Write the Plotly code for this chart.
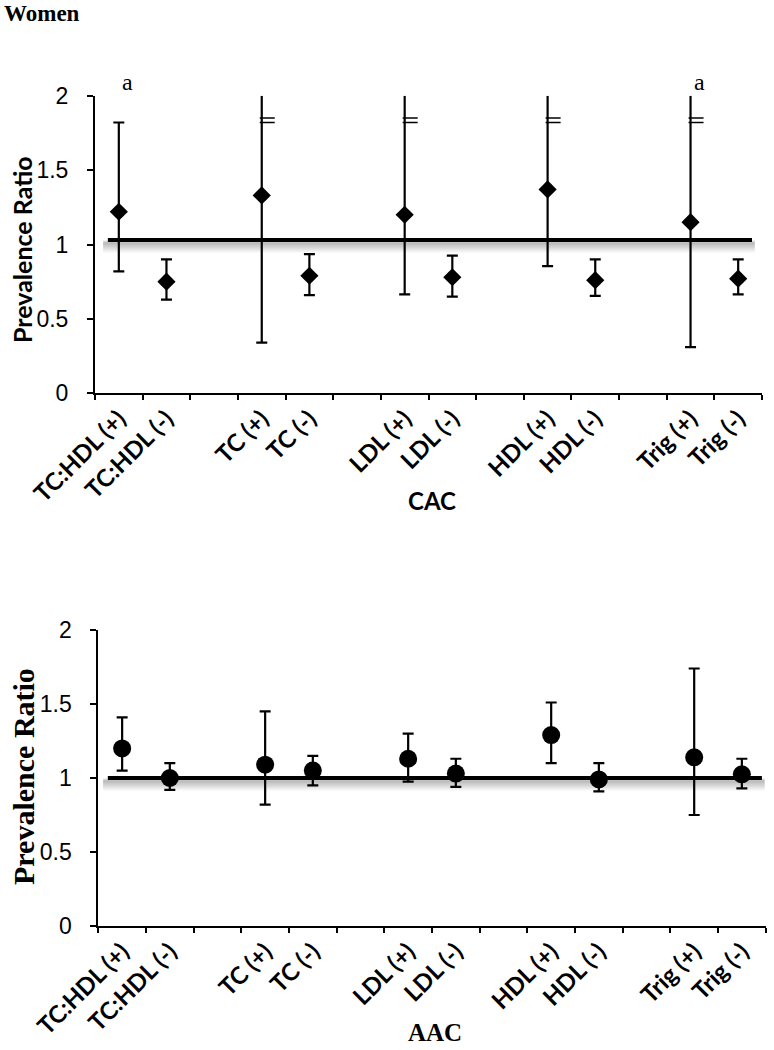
import plotly.graph_objects as go

# ---------------- data ----------------
categories = ["TC:HDL (+)", "TC:HDL (-)", " ", "TC (+)", "TC (-)", "  ",
              "LDL (+)", "LDL (-)", "   ", "HDL (+)", "HDL (-)", "    ",
              "Trig (+)", "Trig (-)"]
groups = ["TC:HDL (+)", "TC:HDL (-)", "TC (+)", "TC (-)", "LDL (+)", "LDL (-)",
          "HDL (+)", "HDL (-)", "Trig (+)", "Trig (-)"]

# CAC (top panel) - upper CI of None means off-scale (> axis max)
cac_pr = [1.22, 0.75, 1.33, 0.79, 1.20, 0.78, 1.37, 0.76, 1.15, 0.77]
cac_lower = [0.82, 0.63, 0.34, 0.66, 0.665, 0.65, 0.855, 0.655, 0.31, 0.665]
cac_upper = [1.82, 0.90, None, 0.935, None, 0.925, None, 0.90, None, 0.90]
cac_ref = 1.03
cac_sig = ["a", "", "", "", "", "", "", "", "a", ""]

# AAC (bottom panel)
aac_pr = [1.20, 1.00, 1.09, 1.05, 1.13, 1.03, 1.29, 0.99, 1.14, 1.025]
aac_lower = [1.05, 0.92, 0.82, 0.95, 0.975, 0.94, 1.10, 0.91, 0.75, 0.93]
aac_upper = [1.41, 1.10, 1.45, 1.15, 1.30, 1.13, 1.51, 1.10, 1.74, 1.13]
aac_ref = 1.0

y_max = 2
y_ticks = [0, 0.5, 1, 1.5, 2]
break_marks_y = [1.82, 1.85]
sig_label_y = 2.09

# ---------------- figure ----------------
W, H = 774, 1050
fig = go.Figure()

# top: off-scale upper whiskers (no caps)
trunc_idx = [i for i, u in enumerate(cac_upper) if u is None]
fig.add_trace(go.Scatter(
    x=[groups[i] for i in trunc_idx], y=[cac_pr[i] for i in trunc_idx],
    mode="markers", marker=dict(size=1, opacity=0),
    error_y=dict(type="data", symmetric=False,
                 array=[y_max - cac_pr[i] for i in trunc_idx],
                 arrayminus=[0 for _ in trunc_idx],
                 color="black", thickness=2.2, width=0),
    xaxis="x", yaxis="y", showlegend=False, hoverinfo="skip", cliponaxis=False))

fig.add_trace(go.Scatter(
    x=groups, y=cac_pr, mode="markers",
    marker=dict(symbol="diamond", size=14, color="black"),
    error_y=dict(type="data", symmetric=False,
                 array=[(u - p) if u is not None else 0 for u, p in zip(cac_upper, cac_pr)],
                 arrayminus=[p - l for p, l in zip(cac_pr, cac_lower)],
                 color="black", thickness=2.2, width=5.5),
    xaxis="x", yaxis="y", showlegend=False, cliponaxis=False))

fig.add_trace(go.Scatter(
    x=groups, y=aac_pr, mode="markers",
    marker=dict(symbol="circle", size=18, color="black"),
    error_y=dict(type="data", symmetric=False,
                 array=[u - p for u, p in zip(aac_upper, aac_pr)],
                 arrayminus=[p - l for p, l in zip(aac_pr, aac_lower)],
                 color="black", thickness=2.2, width=5.5),
    xaxis="x2", yaxis="y2", showlegend=False, cliponaxis=False))

shapes = []


def ref_line(xref, yref, yval, x0, x1):
    # soft shadow below
    for k in range(1, 12):
        a = 0.12 * (1 - k / 12.0)
        shapes.append(dict(type="line", xref=xref, yref=yref, ysizemode="pixel",
                           yanchor=yval, y0=-(1 + k), y1=-(1 + k),
                           x0=x0 - 0.1, x1=x1 + 0.06,
                           line=dict(color=f"rgba(0,0,0,{a:.3f})", width=3),
                           layer="below"))
    shapes.append(dict(type="line", xref=xref, yref=yref, x0=x0, x1=x1,
                       y0=yval, y1=yval, line=dict(color="black", width=4),
                       layer="below"))


ref_line("x", "y", cac_ref, -0.23, 13.29)
ref_line("x2", "y2", aac_ref, -0.30, 13.42)

# break marks on off-scale whiskers
for i in trunc_idx:
    xi = categories.index(groups[i])
    for yb in break_marks_y:
        shapes.append(dict(type="line", xref="x", yref="y", xsizemode="pixel",
                           xanchor=xi, x0=-2, x1=13, y0=yb, y1=yb,
                           line=dict(color="black", width=1.3), layer="above"))

annotations = []
for g, s in zip(groups, cac_sig):
    if s:
        annotations.append(dict(x=categories.index(g), y=sig_label_y / y_max,
                                xref="x", yref="y domain", text=s,
                                showarrow=False, xshift=9, xanchor="center", yanchor="middle",
                                font=dict(family="Liberation Serif", size=24, color="black")))

annotations += [
    dict(text="<b>Women</b>", x=2 / W, y=1 - 13 / H, xref="paper", yref="paper",
         xanchor="left", yanchor="middle", showarrow=False,
         font=dict(family="Liberation Serif", size=23, color="black")),
    dict(text="<b>Prevalence Ratio</b>", x=22 / W, y=1 - 250 / H, xref="paper", yref="paper",
         textangle=-90, showarrow=False, xanchor="center", yanchor="middle",
         font=dict(family="Lato", size=25, color="black")),
    dict(text="<b>CAC</b>", x=432 / W, y=1 - 500 / H, xref="paper", yref="paper",
         showarrow=False, xanchor="center", yanchor="middle",
         font=dict(family="Lato", size=24, color="black")),
    dict(text="<b>Prevalence Ratio</b>", x=23 / W, y=1 - 777 / H, xref="paper", yref="paper",
         textangle=-90, showarrow=False, xanchor="center", yanchor="middle",
         font=dict(family="Liberation Serif", size=30, color="black")),
    dict(text="<b>AAC</b>", x=435 / W, y=1 - 1032 / H, xref="paper", yref="paper",
         showarrow=False, xanchor="center", yanchor="middle",
         font=dict(family="Liberation Serif", size=25, color="black")),
]

xaxis_common = dict(type="category", categoryorder="array", categoryarray=categories,
                    range=[-0.5, len(categories) - 0.5], tickson="boundaries",
                    ticks="outside", ticklen=5, tickwidth=2, tickcolor="black",
                    showline=True, linewidth=2, linecolor="black",
                    tickangle=-45, showgrid=False, zeroline=False, automargin=False,
                    tickfont=dict(family="Lato", size=24, color="black", weight="bold"),
                    fixedrange=True)
yaxis_common = dict(range=[0, y_max], tickvals=y_ticks, ticks="outside", ticklen=6,
                    tickwidth=2, tickcolor="black", showline=True, linewidth=2,
                    linecolor="black", showgrid=False, zeroline=False, automargin=False,
                    ticklabelstandoff=14,
                    tickfont=dict(family="Liberation Sans", size=23, color="black"),
                    fixedrange=True)

fig.update_layout(
    width=W, height=H, margin=dict(l=0, r=0, t=0, b=0, pad=0, autoexpand=False),
    paper_bgcolor="white", plot_bgcolor="white", showlegend=False,
    xaxis=dict(domain=[95 / W, 762 / W], anchor="y", **xaxis_common),
    yaxis=dict(domain=[1 - 393.3 / H, 1 - 95.7 / H], anchor="x", **yaxis_common),
    xaxis2=dict(domain=[98.3 / W, 765.7 / W], anchor="y2", **xaxis_common),
    yaxis2=dict(domain=[1 - 926 / H, 1 - 630 / H], anchor="x2", **yaxis_common),
    shapes=shapes, annotations=annotations,
)

fig.write_html("out.html", config={"displayModeBar": False},
               post_script="document.body.style.margin='0px';")
